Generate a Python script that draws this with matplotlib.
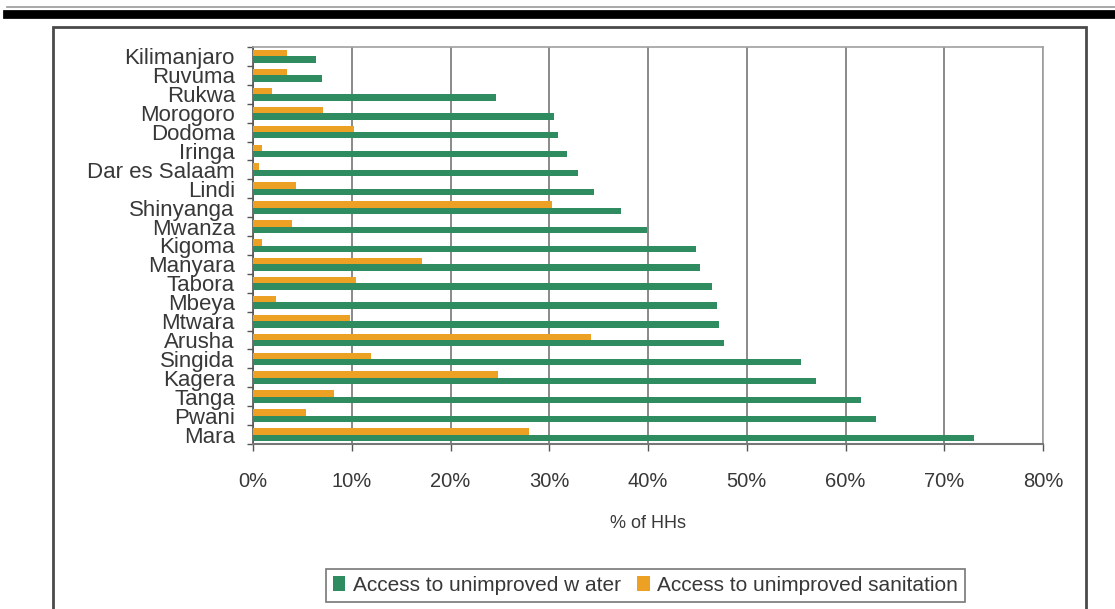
import numpy as np
import matplotlib.pyplot as plt
from matplotlib.lines import Line2D
from matplotlib.patches import Rectangle
from matplotlib.ticker import FixedLocator, PercentFormatter

plt.rcParams['font.family'] = ['Liberation Sans', 'DejaVu Sans']

# ------------------------------
# data (% of households)
# ------------------------------
regions = ["Kilimanjaro", "Ruvuma", "Rukwa", "Morogoro", "Dodoma", "Iringa",
           "Dar es Salaam", "Lindi", "Shinyanga", "Mwanza", "Kigoma", "Manyara",
           "Tabora", "Mbeya", "Mtwara", "Arusha", "Singida", "Kagera", "Tanga",
           "Pwani", "Mara"]
water = [6.4, 7.0, 24.6, 30.5, 30.9, 31.8, 32.9, 34.5, 37.3, 39.9, 44.9, 45.3,
         46.5, 47.0, 47.2, 47.7, 55.5, 57.0, 61.6, 63.1, 73.0]
sanitation = [3.4, 3.4, 1.9, 7.1, 10.2, 0.9, 0.6, 4.4, 30.3, 3.9, 0.9, 17.1,
              10.4, 2.3, 9.8, 34.2, 11.9, 24.8, 8.2, 5.4, 27.9]
x_ticks = [0, 10, 20, 30, 40, 50, 60, 70, 80]

green = '#2e8c60'
orange = '#eda124'
txt = '#383838'

W, H = 1115, 609
fig = plt.figure(figsize=(W / 100, H / 100), dpi=100)

# page decoration: double rule on top and the box round the chart
fig.add_artist(Line2D([7 / W, 1], [1 - 7 / H] * 2, color='#9a9a9a', lw=1.2))
fig.add_artist(Line2D([7 / W, 1], [1 - 13.5 / H] * 2, color='black', lw=6.3))
fig.add_artist(Rectangle((53 / W, -0.1), (1086 - 53) / W, 1 - 27 / H + 0.1,
                         transform=fig.transFigure, fill=False,
                         edgecolor='#4a4a4a', lw=2))

# plot area (pixel box 253..1043 x 47..444)
ax = fig.add_axes([253 / W, 1 - 444 / H, (1043 - 253) / W, (444 - 47) / H])

y = np.arange(len(regions))
h = 0.34
b_w = ax.barh(y + 0.17, water, height=h, color=green,
              label='Access to unimproved w ater', zorder=3)
b_s = ax.barh(y - 0.17, sanitation, height=h, color=orange,
              label='Access to unimproved sanitation', zorder=3)

ax.set_xlim(0, 80)
ax.set_ylim(len(regions) - 0.5, -0.5)

ax.xaxis.set_major_locator(FixedLocator(x_ticks))
ax.xaxis.set_major_formatter(PercentFormatter(decimals=0))
ax.set_yticks(y)
ax.set_yticklabels(regions)
ax.yaxis.set_minor_locator(FixedLocator(np.arange(len(regions) + 1) - 0.5))

ax.tick_params(axis='y', which='major', length=0, pad=13, labelsize=16,
               labelcolor=txt)
ax.tick_params(axis='y', which='minor', length=4, width=1, color='#555555',
               direction='out')
ax.tick_params(axis='x', length=5, width=1, color='#555555', direction='out',
               pad=15, labelsize=14.5, labelcolor=txt)

ax.grid(axis='x', color='#6a6a6a', lw=1.1, zorder=0)
ax.set_axisbelow(True)
for side in ['top', 'right']:
    ax.spines[side].set_color('#a0a0a0')
    ax.spines[side].set_linewidth(1.2)
ax.spines['left'].set_color('#555555')
ax.spines['bottom'].set_color('#777777')
ax.spines['left'].set_linewidth(1.2)
ax.spines['bottom'].set_linewidth(1.5)

ax.set_xlabel('% of HHs', fontsize=13, color=txt, va='center')
ax.xaxis.set_label_coords(0.5, (444 - 523) / (444 - 47))

leg = fig.legend(handles=[b_w, b_s], loc='center',
                 bbox_to_anchor=(645.5 / W, 1 - 585.5 / H), ncol=2,
                 fontsize=15, frameon=True, fancybox=False, shadow=False,
                 handlelength=0.6, handleheight=0.7, handletextpad=0.35,
                 columnspacing=0.8, borderpad=0.35, borderaxespad=0)
leg.get_frame().set_edgecolor('#555555')
leg.get_frame().set_linewidth(1.2)
for t in leg.get_texts():
    t.set_color(txt)

fig.savefig('out.png', dpi=100)
